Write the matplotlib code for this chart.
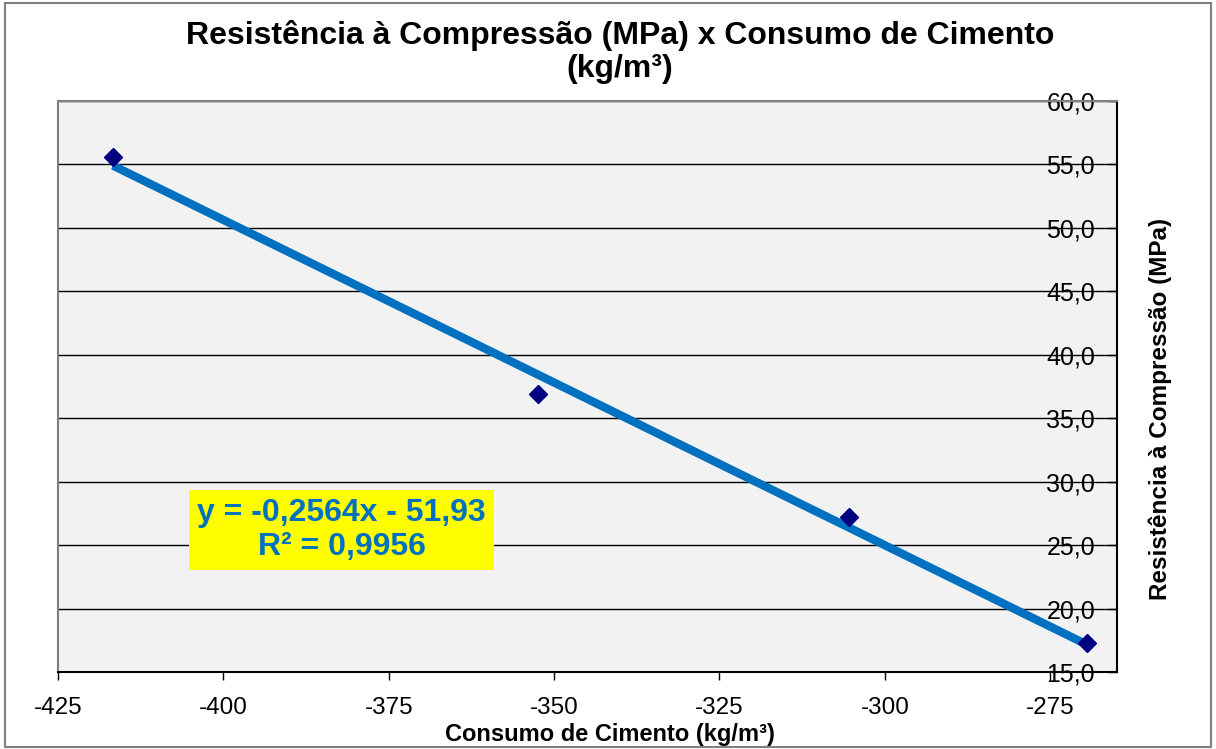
import numpy as np
import matplotlib.pyplot as plt
from matplotlib.ticker import FuncFormatter, MultipleLocator
from matplotlib.patches import Rectangle

plt.rcParams['font.family'] = ['Liberation Sans', 'DejaVu Sans']
plt.rcParams['axes.unicode_minus'] = False

# ensaios: consumo de cimento (negativo no grafico) x resistencia
consumo = [-416.7, -352.4, -305.4, -269.4]
resistencia = [55.6, 36.9, 27.2, 17.3]

# linha de tendencia linear
coef_a = -0.2564
coef_b = -51.93
r2 = 0.9956

titulo = 'Resistência à Compressão (MPa) x Consumo de Cimento\n(kg/m³)'
rotulo_x = 'Consumo de Cimento (kg/m³)'
rotulo_y = 'Resistência à Compressão (MPa)'

azul = '#0070C0'

fig = plt.figure(figsize=(12.16, 7.49), dpi=100)
ax = fig.add_axes([58 / 1216, 1 - 672 / 749, (1117 - 58) / 1216, (672 - 101) / 749])
ax.set_facecolor('#F2F2F2')

# borda externa do grafico
fig.patches.append(Rectangle((5 / 1216, 2 / 749), 1206 / 1216, 744 / 749,
                             transform=fig.transFigure, fill=False,
                             edgecolor='#808080', linewidth=1.5))

xt = np.array([min(consumo), max(consumo)])
ax.plot(xt, coef_a * xt + coef_b, color=azul, linewidth=6, solid_capstyle='butt', zorder=3)
ax.plot(consumo, resistencia, linestyle='none', marker='D', markersize=9,
        color='#000080', zorder=4)

ax.set_xlim(-425, -264.9)
ax.set_ylim(15, 60)
ax.xaxis.set_major_locator(MultipleLocator(25))
ax.yaxis.set_major_locator(MultipleLocator(5))
ax.yaxis.set_major_formatter(FuncFormatter(lambda v, p: f'{v:.1f}'.replace('.', ',')))

ax.yaxis.tick_right()
ax.yaxis.set_label_position('right')
ax.grid(axis='y', color='black', linewidth=1)
ax.set_axisbelow(True)

for s in ['left', 'top']:
    ax.spines[s].set_color('#808080')
    ax.spines[s].set_linewidth(1.5)
for s in ['right', 'bottom']:
    ax.spines[s].set_color('black')
    ax.spines[s].set_linewidth(1.5)

ax.tick_params(axis='x', direction='out', length=6, width=1, labelsize=17.5, pad=12)
ax.tick_params(axis='y', direction='in', length=6.5, width=1, labelsize=18, pad=-15.8)
for lbl in ax.get_yticklabels():
    lbl.set_horizontalalignment('right')

ax.set_xlabel(rotulo_x, fontsize=17, fontweight='bold', va='center')
ax.xaxis.set_label_coords(0.521, -63 / 571)
ax.set_ylabel(rotulo_y, fontsize=17.5, fontweight='bold', va='center')
ax.yaxis.set_label_coords(1.0406, 0.4606)

fig.text(620 / 1216, 1 - 52 / 749, titulo, ha='center', va='center',
         fontsize=23, fontweight='bold', linespacing=1.1)

eq = f'y = {coef_a}x - {abs(coef_b)}'.replace('.', ',') + f'\nR² = {r2}'.replace('.', ',')
ax.text(-382.1, 26.2, eq, ha='center', va='center', fontsize=23, fontweight='bold',
        color=azul, linespacing=1.15, zorder=5,
        bbox=dict(boxstyle='square,pad=0.25', facecolor='#FFFF00', edgecolor='none'))

fig.savefig('out.png', dpi=100)
